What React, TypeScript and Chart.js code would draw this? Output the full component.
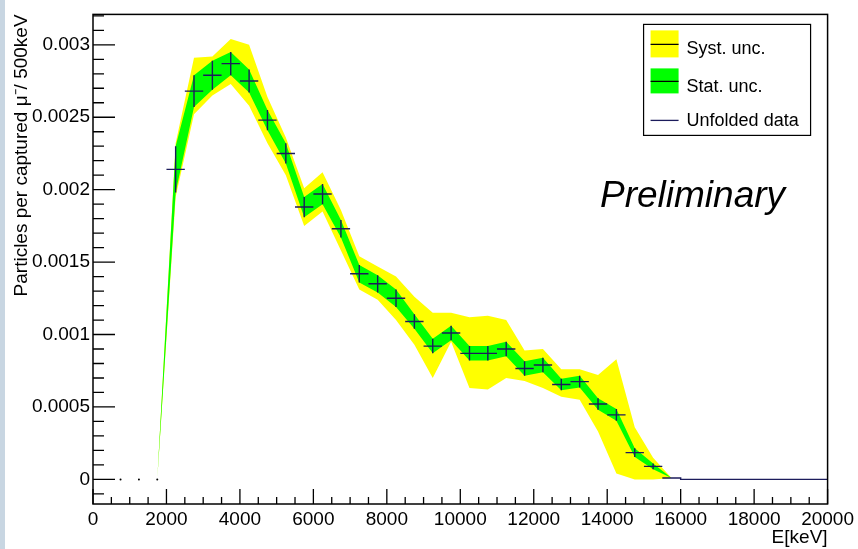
import React, { useEffect, useRef } from 'react';
import { Chart, registerables } from 'chart.js';

Chart.register(...registerables);

// ---- data (bin centres in keV, 500 keV bins) ----
const binCenters = [2250, 2750, 3250, 3750, 4250, 4750, 5250, 5750, 6250, 6750, 7250, 7750, 8250, 8750, 9250, 9750, 10250, 10750, 11250, 11750, 12250, 12750, 13250, 13750, 14250, 14750, 15250];
const values = [0.00214, 0.00268, 0.00279, 0.00287, 0.00275, 0.00248, 0.00225, 0.00188, 0.00197, 0.00173, 0.00142, 0.00135, 0.00125, 0.00109, 0.00092, 0.00101, 0.00087, 0.00087, 0.0009, 0.000765, 0.00079, 0.000655, 0.000675, 0.00052, 0.000445, 0.000185, 0.00009];
const statErr = [0.00016, 0.00011, 0.0001, 0.00008, 0.00008, 0.00007, 0.00007, 0.00007, 0.00007, 0.00006, 0.00006, 0.00006, 0.00006, 0.00005, 0.00005, 0.00005, 0.00005, 0.00005, 0.00005, 0.00005, 0.00005, 0.00004, 0.00004, 0.00004, 0.00004, 0.00003, 0.00002];
const systUpper = [0.00232, 0.00291, 0.00292, 0.00304, 0.003, 0.00264, 0.00236, 0.00201, 0.00212, 0.00186, 0.00154, 0.00147, 0.0014, 0.00126, 0.00115, 0.00115, 0.00112, 0.00113, 0.0011, 0.00089, 0.0009, 0.00076, 0.00076, 0.00072, 0.00083, 0.00036, 0.00015];
const systLower = [0.00195, 0.00252, 0.00265, 0.00273, 0.00258, 0.00232, 0.0021, 0.00175, 0.00185, 0.00158, 0.00131, 0.00124, 0.0011, 0.00093, 0.0007, 0.00095, 0.00063, 0.00062, 0.0007, 0.00068, 0.00063, 0.00057, 0.00055, 0.00033, 0.00004, 0, 0];
const bandStart = { x: 1750, y: 0 };
const bandEnd = { x: 15750, y: 0.00001 };
const emptyBinCenters = [750, 1250, 1750];
const emptyBinValues = [0, 0, 0];
const tailBinCenters = [15750, 16250, 16750, 17250, 17750, 18250, 18750, 19250, 19750];
const tailValues = [0.00001, 0, 0, 0, 0, 0, 0, 0, 0];
const binHalfWidth = 250;

const xTickValues = [0, 2000, 4000, 6000, 8000, 10000, 12000, 14000, 16000, 18000, 20000];
const yTickValues = [0, 0.0005, 0.001, 0.0015, 0.002, 0.0025, 0.003];
const yTickLabels = ['0', '0.0005', '0.001', '0.0015', '0.002', '0.0025', '0.003'];
const legendLabels = ['Syst. unc.', 'Stat. unc.', 'Unfolded data'];

const FONT = "'Liberation Sans', Arial, Helvetica, sans-serif";
const DATA_COLOR = '#1c1c5c';
const YELLOW = '#ffff00';
const GREEN = '#00ff00';

const frameTicks = {
  id: 'frameTicks',
  afterDraw(chart: any) {
    const { ctx, chartArea: a, scales } = chart;
    const xs = scales.x;
    const ys = scales.y;
    ctx.save();
    ctx.strokeStyle = '#000';
    ctx.lineWidth = 1.5;
    ctx.strokeRect(a.left, a.top, a.right - a.left, a.bottom - a.top);
    ctx.lineWidth = 1.3;
    ctx.beginPath();
    for (let k = 0; k <= 40; k++) {
      const v = k * 500;
      const px = xs.getPixelForValue(v);
      const len = k % 4 === 0 ? 15 : 7;
      ctx.moveTo(px, a.bottom);
      ctx.lineTo(px, a.bottom - len);
    }
    const kMin = Math.ceil(ys.min / 0.0001 - 1e-6);
    const kMax = Math.floor(ys.max / 0.0001 + 1e-6);
    for (let k = kMin; k <= kMax; k++) {
      const py = ys.getPixelForValue(k * 0.0001);
      const len = k % 5 === 0 ? 22 : 11;
      ctx.moveTo(a.left, py);
      ctx.lineTo(a.left + len, py);
    }
    ctx.stroke();
    ctx.restore();
  },
};

const rootLegend = {
  id: 'rootLegend',
  afterDraw(chart: any) {
    const { ctx, chartArea: a } = chart;
    const bx = a.right - 184;
    const by = a.top + 10;
    const bw = 167;
    const bh = 111;
    ctx.save();
    ctx.fillStyle = '#fff';
    ctx.fillRect(bx, by, bw, bh);
    ctx.strokeStyle = '#000';
    ctx.lineWidth = 1.2;
    ctx.strokeRect(bx, by, bw, bh);
    const sx = bx + 7;
    const sw = 28;
    ctx.fillStyle = YELLOW;
    ctx.fillRect(sx, by + 6, sw, 27);
    ctx.fillStyle = GREEN;
    ctx.fillRect(sx, by + 44, sw, 25);
    ctx.strokeStyle = '#000';
    ctx.lineWidth = 1.3;
    ctx.beginPath();
    ctx.moveTo(sx, by + 20);
    ctx.lineTo(sx + sw, by + 20);
    ctx.moveTo(sx, by + 57);
    ctx.lineTo(sx + sw, by + 57);
    ctx.stroke();
    ctx.strokeStyle = DATA_COLOR;
    ctx.beginPath();
    ctx.moveTo(sx, by + 96);
    ctx.lineTo(sx + sw, by + 96);
    ctx.stroke();
    ctx.fillStyle = '#000';
    ctx.font = `18px ${FONT}`;
    ctx.textBaseline = 'alphabetic';
    ctx.textAlign = 'left';
    ctx.fillText(legendLabels[0], bx + 43, by + 30);
    ctx.fillText(legendLabels[1], bx + 43, by + 68);
    ctx.fillText(legendLabels[2], bx + 43, by + 102);
    ctx.font = `italic 37px ${FONT}`;
    ctx.fillText('Preliminary', a.left + 507, a.top + 193);
    ctx.restore();
  },
};

function bandData(upper: number[]) {
  return [bandStart, ...binCenters.map((x, i) => ({ x, y: upper[i] })), bandEnd];
}

export default function App() {
  const ref = useRef<HTMLCanvasElement>(null);
  useEffect(() => {
    if (!ref.current) return;
    const hBars: any[] = [];
    binCenters.forEach((c, i) => {
      hBars.push({ x: c - binHalfWidth, y: values[i] }, { x: c + binHalfWidth, y: values[i] }, { x: c + binHalfWidth, y: null });
    });
    tailBinCenters.forEach((c, i) => {
      hBars.push({ x: c - binHalfWidth, y: tailValues[i] }, { x: c + binHalfWidth, y: tailValues[i] });
    });
    const vBars: any[] = [];
    binCenters.forEach((c, i) => {
      vBars.push({ x: c, y: values[i] - statErr[i] }, { x: c, y: values[i] + statErr[i] }, { x: c, y: null });
    });
    const statUp = binCenters.map((x, i) => values[i] + statErr[i]);
    const statLo = binCenters.map((x, i) => values[i] - statErr[i]);
    const band = (data: any[], fill: any, color: string, order: number) => ({
      type: 'line',
      data,
      fill,
      backgroundColor: color,
      borderColor: 'rgba(0,0,0,0)',
      borderWidth: 0,
      pointRadius: 0,
      tension: 0,
      order,
    });
    const chart = new Chart(ref.current, {
      type: 'line',
      data: {
        datasets: [
          band(bandData(systUpper), '+1', YELLOW, 4),
          band(bandData(systLower), false, YELLOW, 4),
          band(bandData(statUp), '+1', GREEN, 3),
          band(bandData(statLo), false, GREEN, 3),
          {
            type: 'line',
            data: hBars,
            borderColor: DATA_COLOR,
            borderWidth: 1.4,
            pointRadius: 0,
            fill: false,
            spanGaps: false,
            order: 1,
          },
          {
            type: 'line',
            data: vBars,
            borderColor: DATA_COLOR,
            borderWidth: 1.4,
            pointRadius: 0,
            fill: false,
            spanGaps: false,
            order: 1,
          },
          {
            type: 'line',
            data: emptyBinCenters.map((x, i) => ({ x, y: emptyBinValues[i] })),
            showLine: false,
            pointRadius: 1,
            pointBorderWidth: 0,
            pointBackgroundColor: '#000',
            order: 0,
          },
        ] as any,
      },
      options: {
        responsive: false,
        animation: false,
        events: [],
        layout: { padding: { top: 9, right: 29, left: 0, bottom: 0 } },
        plugins: {
          legend: { display: false },
          tooltip: { enabled: false },
        },
        scales: {
          x: {
            type: 'linear',
            min: 0,
            max: 20000,
            afterBuildTicks: (s: any) => {
              s.ticks = xTickValues.map((v) => ({ value: v }));
            },
            afterFit: (s: any) => {
              s.height = 45;
            },
            grid: { display: false, drawTicks: false },
            border: { display: false },
            ticks: {
              autoSkip: false,
              maxRotation: 0,
              padding: 4,
              color: '#000',
              font: { family: FONT, size: 19 },
              callback: (v: any) => String(v),
            },
            title: {
              display: true,
              text: 'E[keV]',
              align: 'end',
              color: '#000',
              font: { family: FONT, size: 19 },
              padding: { top: 0, bottom: 0 },
            },
          },
          y: {
            type: 'linear',
            min: -0.00017,
            max: 0.00321,
            afterBuildTicks: (s: any) => {
              s.ticks = yTickValues.map((v) => ({ value: v }));
            },
            afterFit: (s: any) => {
              s.width = 93;
            },
            grid: { display: false, drawTicks: false },
            border: { display: false },
            ticks: {
              autoSkip: false,
              padding: 3,
              color: '#000',
              font: { family: FONT, size: 19 },
              callback: (v: any, i: number) => yTickLabels[i],
            },
            title: {
              display: true,
              text: 'Particles per captured μ⁻/ 500keV',
              align: 'end',
              color: '#000',
              font: { family: FONT, size: 19 },
              padding: { top: 10, bottom: 0 },
            },
          },
        },
      } as any,
      plugins: [frameTicks, rootLegend],
    });
    return () => chart.destroy();
  }, []);

  return (
    <div style={{ position: 'fixed', left: 0, top: 0, width: 858, height: 549, background: '#fff' }}>
      <div style={{ position: 'absolute', left: 0, top: 0, width: 5, height: 549, background: '#c8d6e2' }} />
      <canvas ref={ref} width={858} height={549} style={{ position: 'absolute', left: 0, top: 0 }} />
    </div>
  );
}
